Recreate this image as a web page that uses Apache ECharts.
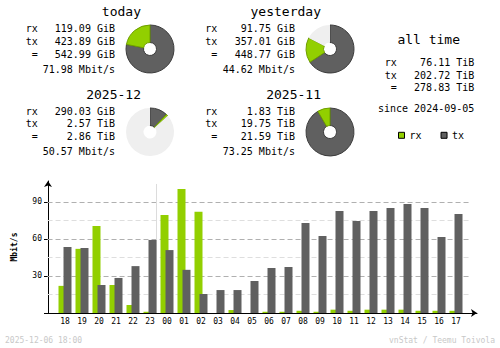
<!DOCTYPE html>
<html>
<head>
<meta charset="utf-8">
<script src="https://cdn.jsdelivr.net/npm/echarts@6/dist/echarts.min.js"></script>
<style>
html,body{margin:0;padding:0;background:#fff;}
#chart{width:500px;height:348px;}
</style>
</head>
<body>
<div id="chart"></div>
<script>
// ---------- data ----------
const hours = ['18','19','20','21','22','23','00','01','02','03','04','05','06','07','08','09','10','11','12','13','14','15','16','17'];
const rxRates = [22, 52, 70.5, 22.7, 6.5, 1, 79.5, 100.5, 82, 0, 2.4, 0, 1, 1, 1.8, 1, 2.7, 1.8, 2.7, 2.7, 2.7, 1.8, 1.8, 1.8];
const txRates = [53.5, 52.7, 22.7, 28.4, 38, 59.2, 51, 35, 15.4, 18.6, 18.6, 26, 36.5, 37.3, 73, 62.4, 82.7, 74.6, 82.7, 85.1, 88.4, 85.1, 61.6, 80.3];
const yLabelValues = [30, 60, 90];
const gridLevels = [15, 30, 45, 60, 75, 90];

const periods = ['today', 'yesterday', '2025-12', '2025-11'];
const periodRx = [119.09, 91.75, 290.03, 1.83];
const periodRxUnit = ['GiB', 'GiB', 'GiB', 'TiB'];
const periodTx = [423.89, 357.01, 2.57, 19.75];
const periodTxUnit = ['GiB', 'GiB', 'TiB', 'TiB'];
const periodTotal = [542.99, 448.77, 2.86, 21.59];
const periodTotalUnit = ['GiB', 'GiB', 'TiB', 'TiB'];
const periodRate = [71.98, 44.62, 50.57, 73.25];
const pieGroups = [[0, 1], [2, 3]];

const allTimeRx = 76.11, allTimeTx = 202.72, allTimeTotal = 278.83, allTimeUnit = 'TiB';
const sinceDate = '2024-09-05';
const footerLeft = '2025-12-06 18:00';
const footerRight = 'vnStat / Teemu Toivola';

// ---------- style ----------
const FONT = '"DejaVu Sans Mono","Liberation Mono",monospace';
const C_RX = '#92CF00', C_TX = '#606060', C_RXD = '#6f9e00', C_TXD = '#3c3c3c', C_REST = '#efefef';

const blockLayout = [
  {titleRight: 141, titleY: 11.5, labelRight: 37.7, valueRight: 115, rowY: 28.7, pie: [150, 49]},
  {titleRight: 321, titleY: 11.5, labelRight: 217.3, valueRight: 295, rowY: 28.7, pie: [330, 49]},
  {titleRight: 141, titleY: 94, labelRight: 37.7, valueRight: 115, rowY: 111.2, pie: [150, 132]},
  {titleRight: 321, titleY: 94, labelRight: 217.3, valueRight: 295, rowY: 111.2, pie: [330, 132]}
];
const rowOffsets = [0, 12.6, 25.3, 40.6];

function toGiB(v, u) { return u === 'TiB' ? v * 1024 : v; }
function fmt(v, u) { return v.toFixed(2) + ' ' + u; }

function txt(x, y, text, opt) {
  opt = opt || {};
  return {
    type: 'text', x: x, y: y, silent: true,
    style: {
      text: text, fill: opt.fill || '#000',
      font: (opt.weight || 'normal') + ' ' + (opt.size || 10) + 'px ' + FONT,
      align: opt.align || 'left', verticalAlign: 'middle'
    }
  };
}

const graphics = [];
const pieSeries = [];
periods.forEach((p, i) => {
  const L = blockLayout[i];
  graphics.push(txt(L.titleRight, L.titleY, p, {size: 13, align: 'right'}));
  const labels = ['rx', 'tx', '='];
  const vals = [fmt(periodRx[i], periodRxUnit[i]), fmt(periodTx[i], periodTxUnit[i]), fmt(periodTotal[i], periodTotalUnit[i])];
  labels.forEach((lb, k) => {
    graphics.push(txt(L.labelRight, L.rowY + rowOffsets[k], lb, {align: 'right'}));
    graphics.push(txt(L.valueRight, L.rowY + rowOffsets[k], vals[k], {align: 'right'}));
  });
  graphics.push(txt(L.valueRight, L.rowY + rowOffsets[3], periodRate[i].toFixed(2) + ' Mbit/s', {align: 'right'}));
});

pieGroups.forEach(group => {
  const maxTotal = Math.max.apply(null, group.map(i => toGiB(periodTotal[i], periodTotalUnit[i])));
  group.forEach(i => {
    const rx = toGiB(periodRx[i], periodRxUnit[i]);
    const tx = toGiB(periodTx[i], periodTxUnit[i]);
    const rest = maxTotal - toGiB(periodTotal[i], periodTotalUnit[i]);
    const data = [
      {name: 'tx', value: tx, itemStyle: {color: C_TX, borderColor: C_TXD, borderWidth: 1}},
      {name: 'rx', value: rx, itemStyle: {color: C_RX, borderColor: C_RXD, borderWidth: 1}}
    ];
    if (rest > 0.5) data.push({name: 'rest', value: rest, itemStyle: {color: C_REST, borderWidth: 0}});
    pieSeries.push({
      type: 'pie', silent: true, animation: false,
      center: blockLayout[i].pie, radius: [6.5, 24],
      startAngle: 90, clockwise: true,
      label: {show: false}, labelLine: {show: false},
      emphasis: {disabled: true},
      data: data
    });
  });
});

// all time block
graphics.push(txt(428.7, 39.3, 'all time', {size: 13, align: 'center'}));
[['rx', allTimeRx], ['tx', allTimeTx], ['=', allTimeTotal]].forEach((r, k) => {
  graphics.push(txt(396.7, 62.3 + k * 12.7, r[0], {align: 'right'}));
  graphics.push(txt(474.3, 62.3 + k * 12.7, fmt(r[1], allTimeUnit), {align: 'right'}));
});
graphics.push(txt(474.3, 108.3, 'since ' + sinceDate, {align: 'right'}));

// footer
graphics.push(txt(5, 340, footerLeft, {size: 8, fill: '#c8c8c8'}));
graphics.push(txt(495, 340, footerRight, {size: 8, fill: '#c8c8c8', align: 'right'}));

const dayBoundary = hours.indexOf('00') - 0.5;

const chart = echarts.init(document.getElementById('chart'), null, {renderer: 'svg'});
chart.setOption({
  animation: false,
  backgroundColor: '#fff',
  graphic: graphics,
  legend: {
    data: [
      {name: 'rx', itemStyle: {color: C_RX, borderColor: '#000', borderWidth: 1}},
      {name: 'tx', itemStyle: {color: C_TX, borderColor: '#000', borderWidth: 1}}
    ],
    left: 398, top: 130.3, padding: 0, itemWidth: 6, itemHeight: 6, itemGap: 19,
    icon: 'rect', selectedMode: false,
    textStyle: {fontFamily: FONT, fontSize: 10, color: '#000'}
  },
  grid: {left: 48, right: 23, top: 181, bottom: 35, containLabel: false},
  xAxis: {
    type: 'value', min: -1, max: 24.235, interval: 1,
    axisLine: {show: true, onZero: false, symbol: ['none', 'arrow'], symbolSize: [6, 6], lineStyle: {color: '#000', width: 1}},
    axisTick: {show: false},
    splitLine: {show: false},
    axisLabel: {
      margin: 4, color: '#000', fontFamily: FONT, fontSize: 8,
      formatter: v => (Number.isInteger(v) && v >= 0 && v < hours.length) ? hours[v] : ''
    }
  },
  yAxis: {
    type: 'value', min: 0, max: 107, interval: 30,
    name: 'Mbit/s', nameLocation: 'middle', nameRotate: 90, nameGap: 30,
    nameTextStyle: {fontFamily: FONT, fontSize: 8, fontWeight: 'bold', color: '#000'},
    axisLine: {show: true, onZero: false, symbol: ['none', 'arrow'], symbolSize: [6, 6], lineStyle: {color: '#000', width: 1}},
    axisTick: {show: true, length: 4, customValues: [0].concat(yLabelValues), lineStyle: {color: '#000'}},
    splitLine: {show: false},
    axisLabel: {
      margin: 6, color: '#000', fontFamily: FONT, fontSize: 8,
      formatter: v => yLabelValues.indexOf(v) >= 0 ? String(v) : ''
    }
  },
  series: [
    {
      type: 'bar', name: 'rx', barWidth: 8, barGap: '-37.5%', silent: true,
      itemStyle: {color: C_RX},
      data: rxRates.map((v, i) => [i, v]),
      markLine: {
        silent: true, symbol: ['none', 'none'], label: {show: false}, z: 1, animation: false,
        emphasis: {disabled: true},
        data: gridLevels.map(v => [
          {coord: [-0.88, v], lineStyle: {color: v % 30 === 0 ? '#b0b0b0' : '#dedede', type: [5, 3], width: 1}},
          {coord: [23.94, v]}
        ]).concat([[
          {coord: [dayBoundary, 0], lineStyle: {color: '#dcdcdc', type: 'solid', width: 1}},
          {coord: [dayBoundary, 104.6]}
        ]])
      }
    },
    {
      type: 'bar', name: 'tx', barWidth: 8, barGap: '-37.5%', silent: true,
      itemStyle: {color: C_TX},
      data: txRates.map((v, i) => [i, v])
    }
  ].concat(pieSeries)
});
</script>
</body>
</html>
